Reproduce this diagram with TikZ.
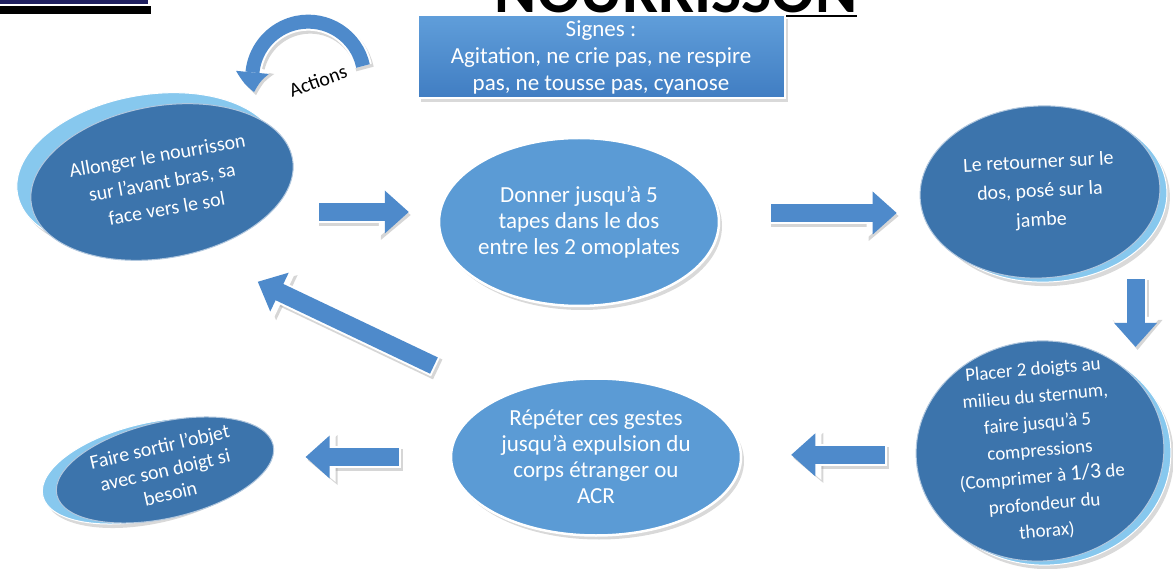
\documentclass[tikz,border=0pt]{standalone}
\usepackage{fontspec}
\setmainfont{Carlito}
\usepackage{tikz}
\usetikzlibrary{shapes.geometric,arrows.meta,bending,shadows,calc}
\definecolor{bleuclair}{RGB}{91,155,213}
\definecolor{bleufonce}{RGB}{60,116,172}
\definecolor{bleurebord}{RGB}{135,200,238}
\definecolor{bleufleche}{RGB}{78,138,203}
\definecolor{bleuhaut}{RGB}{96,158,218}
\definecolor{bleubas}{RGB}{64,125,194}
\definecolor{marine}{RGB}{31,31,95}

\begin{document}
\begin{tikzpicture}[x=1pt,y=-1pt,
  ombre/.style={drop shadow={opacity=0.3,shadow xshift=3pt,shadow yshift=-4pt}},
  etapeclair/.style={ellipse,fill=bleuclair,draw=white,line width=2.5pt,text=white,align=center,inner sep=-25pt,ombre},
  etapefonce/.style={ellipse,fill=bleufonce,draw=white!60!bleufonce,line width=1pt,text=white,align=center,inner sep=-25pt},
  rebord/.style={ellipse,fill=bleurebord,draw=white,line width=1pt,inner sep=0pt,ombre},
  signes/.style={rectangle,top color=bleuhaut,bottom color=bleubas,draw=white,line width=2pt,text=white,align=center,ombre},
  fleche/.style={draw=bleufleche,line width=18pt,line cap=rect,
    -{Triangle[length=24pt,width=43pt,line width=0pt]},
    preaction={draw=black!40,opacity=0.4,line width=22pt,line cap=rect,
      -{Triangle[length=30pt,width=50pt,line width=0pt]},transform canvas={xshift=2pt,yshift=-3pt}},
    preaction={draw=white,line width=22pt,line cap=rect,
      -{Triangle[length=30pt,width=50pt,line width=0pt]}}},
  actionfleche/.style={draw=bleufleche,line width=14pt,
    -{Triangle[length=20pt,width=33pt,line width=0pt,bend]},
    preaction={draw=black!40,opacity=0.4,line width=18pt,
      -{Triangle[length=25pt,width=39pt,line width=0pt,bend]},transform canvas={xshift=2pt,yshift=-3pt}},
    preaction={draw=white,line width=18pt,
      -{Triangle[length=25pt,width=39pt,line width=0pt,bend]}}}]
\useasboundingbox (0,0) rectangle (1173,569);
\clip (0,0) rectangle (1173,569);

% logo et titre
\fill[marine] (0,0) rectangle (148,4);
\fill[black] (0,6) rectangle (151,14);
\node[font=\fontsize{64}{70}\selectfont\bfseries,anchor=base,inner sep=0pt] (T1) at (676,13) {NOURRISSON};
\draw[line width=2.5pt] ([yshift=-3pt]T1.base west) -- ([yshift=-3pt]T1.base east);

% signes
\node[signes,minimum width=367pt,minimum height=83pt,font=\fontsize{23}{27}\selectfont] (S1) at (601,57)
  {Signes :\\Agitation, ne crie pas, ne respire\\pas, ne tousse pas, cyanose};

% actions
\coordinate (C1) at (363,66);
\draw[actionfleche] (C1) arc[start angle=-12,end angle=-195,radius=56];
\node[rotate=20,font=\fontsize{20}{22}\selectfont] (L1) at (318,81) {Actions};

% etapes
\node[rebord,rotate=10,minimum width=265pt,minimum height=152pt] (R1) at (148,171) {};
\node[etapefonce,rotate=10,minimum width=265pt,minimum height=152pt,font=\fontsize{20}{27}\selectfont] (E1) at (162,182)
  {Allonger le nourrisson\\sur l’avant bras, sa\\face vers le sol};
\node[etapeclair,minimum width=280pt,minimum height=168pt,font=\fontsize{23}{26}\selectfont] (E2) at (579,222)
  {Donner jusqu’à 5\\tapes dans le dos\\entre les 2 omoplates};
\node[rebord,rotate=3,minimum width=240pt,minimum height=172pt] (R3) at (1047,196) {};
\node[etapefonce,rotate=3,minimum width=240pt,minimum height=172pt,font=\fontsize{20}{29}\selectfont] (E3) at (1040,192)
  {Le retourner sur le\\dos, posé sur la\\jambe};
\node[rebord,rotate=5,minimum width=248pt,minimum height=220pt] (R4) at (1047,455) {};
\node[etapefonce,rotate=5,minimum width=248pt,minimum height=220pt,font=\fontsize{19}{27}\selectfont] (E4) at (1040,451)
  {Placer 2 doigts au\\milieu du sternum,\\faire jusqu’à 5\\compressions\\(Comprimer à {\fontsize{22}{27}\selectfont 1/3} de\\profondeur du\\thorax)};
\node[etapeclair,minimum width=290pt,minimum height=157pt,font=\fontsize{23}{26}\selectfont] (E5) at (596,457)
  {Répéter ces gestes\\jusqu’à expulsion du\\corps étranger ou\\ACR};
\node[rebord,rotate=13,minimum width=222pt,minimum height=96pt] (R6) at (151,471) {};
\node[etapefonce,rotate=13,minimum width=222pt,minimum height=96pt,font=\fontsize{20}{24}\selectfont] (E6) at (165,470)
  {Faire sortir l’objet\\avec son doigt si\\besoin};

% fleches
\draw[fleche,shorten <=35pt,shorten >=29pt] ([yshift=10pt]E2.west -| E1.east) -- ([yshift=10pt]E2.west);
\draw[fleche,shorten <=60pt,shorten >=23pt] ([yshift=9pt]E2.east) -- ([yshift=9pt]E2.east -| E3.west);
\draw[fleche,shorten <=10pt,shorten >=-6pt] ([xshift=91pt]E3.south) -- ([xshift=91pt]E3.south |- E4.north);
\draw[fleche,shorten <=40pt,shorten >=49pt] ([yshift=7pt]E4.west) -- ([yshift=7pt]E4.west -| E5.east);
\draw[fleche,shorten <=60pt,shorten >=32pt] (E5.west) -- (E5.west -| E6.east);
\draw[fleche,shorten <=82pt,shorten >=68pt] (E5.148) -- (E1.-74);
\end{tikzpicture}
\end{document}
